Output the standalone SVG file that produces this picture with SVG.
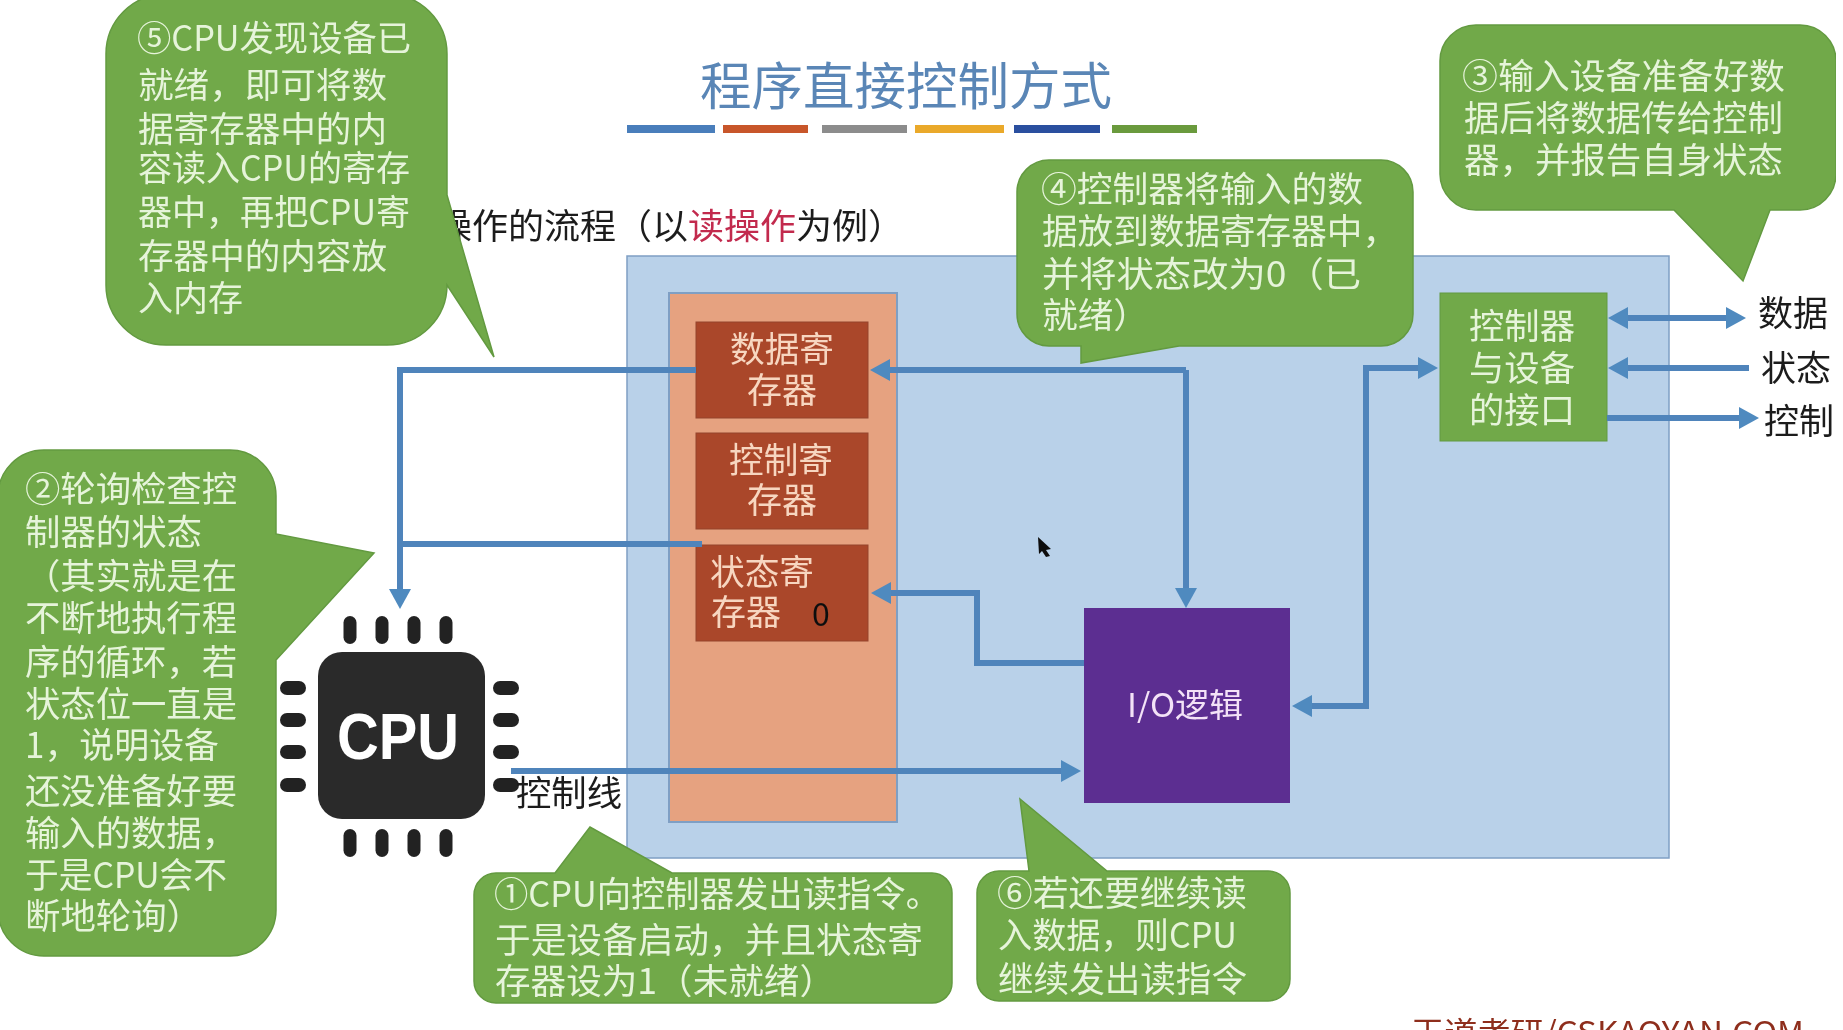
<svg xmlns="http://www.w3.org/2000/svg" width="1843" height="1030" viewBox="0 0 1843 1030">
<defs>
<style>
text{font-family:"Noto Sans CJK SC","Noto Sans",sans-serif;font-size:35px}
.b{fill:#71a949;stroke:#639a40;stroke-width:1.5}
.t{fill:#e6f4da}
.r{fill:#aa472a;stroke:#94452f;stroke-width:1}
.rt{fill:#f7d6c0;text-anchor:middle}
.k{fill:#1c1c1c}
.c{fill:none;stroke:#4f84bb;stroke-width:6;stroke-linejoin:miter}
.a{marker-end:url(#h)}
.p{fill:#222}
</style>
<marker id="h" markerUnits="userSpaceOnUse" viewBox="0 0 20 22" refX="2" refY="11" markerWidth="20" markerHeight="22" orient="auto-start-reverse"><path d="M0,0 L20,11 L0,22 Z" fill="#4f8abf"/></marker>
<filter id="soft" x="0" y="0" width="100%" height="100%"><feGaussianBlur stdDeviation="0.6"/></filter>
</defs>
<rect width="1843" height="1030" fill="#fff"/>
<g filter="url(#soft)">
<g id="title">
<text x="700" y="105" textLength="412" lengthAdjust="spacingAndGlyphs" style="font-size:51px" fill="#5a86b6">程序直接控制方式</text>
<rect x="627" y="125" width="88" height="8" fill="#4a7ebb"/>
<rect x="723" y="125" width="85" height="8" fill="#c8562a"/>
<rect x="822" y="125" width="85" height="8" fill="#8c8c8c"/>
<rect x="915" y="125" width="89" height="8" fill="#eaa92a"/>
<rect x="1014" y="125" width="86" height="8" fill="#2a4f9f"/>
<rect x="1112" y="125" width="85" height="8" fill="#6a9a3c"/>
</g>
<g id="subtitle">
<text x="436" y="239" textLength="468" lengthAdjust="spacingAndGlyphs" class="k">操作的流程（以<tspan fill="#c22a4e">读操作</tspan>为例）</text>
</g>
<g id="panel"><rect x="627" y="256" width="1042" height="602" fill="#b9d1e9" stroke="#7f9fc4" stroke-width="1.5"/></g>
<g id="registers"><rect x="669" y="293" width="228" height="529" fill="#e6a280" stroke="#7f9fc4" stroke-width="2"/></g>
<g id="data-register">
<rect class="r" x="696" y="322" width="172" height="96"/>
<text class="rt" x="782" y="362" textLength="104" lengthAdjust="spacingAndGlyphs">数据寄</text>
<text class="rt" x="782" y="403" textLength="70" lengthAdjust="spacingAndGlyphs">存器</text>
</g>
<g id="control-register">
<rect class="r" x="696" y="433" width="172" height="96"/>
<text class="rt" x="781" y="473" textLength="104" lengthAdjust="spacingAndGlyphs">控制寄</text>
<text class="rt" x="782" y="513" textLength="70" lengthAdjust="spacingAndGlyphs">存器</text>
</g>
<g id="status-register">
<rect class="r" x="696" y="545" width="172" height="96"/>
<text class="rt" x="762" y="585" textLength="104" lengthAdjust="spacingAndGlyphs">状态寄</text>
<text class="rt" x="746" y="625" textLength="70" lengthAdjust="spacingAndGlyphs">存器</text>
<text x="821" y="626" text-anchor="middle" style="font-size:32px" fill="#111">0</text>
</g>
<g id="io-logic">
<rect x="1084" y="608" width="206" height="195" fill="#5c2d91"/>
<text x="1127" y="717" textLength="116" lengthAdjust="spacingAndGlyphs" style="font-size:33px" fill="#f3e2f7">I/O逻辑</text>
</g>
<g id="interface">
<rect x="1440" y="293" width="167" height="148" fill="#71a949" stroke="#639a40"/>
<text class="t" x="1469" y="339" textLength="106" lengthAdjust="spacingAndGlyphs">控制器</text>
<text class="t" x="1469" y="381" textLength="106" lengthAdjust="spacingAndGlyphs">与设备</text>
<text class="t" x="1469" y="423" textLength="106" lengthAdjust="spacingAndGlyphs">的接口</text>
</g>
<g id="cpu">
<rect x="318" y="652" width="167" height="167" rx="24" fill="#2b2b2b"/>
<g class="p">
<rect x="343.500" y="616" width="13" height="28" rx="6.500"/><rect x="375.500" y="616" width="13" height="28" rx="6.500"/><rect x="407.500" y="616" width="13" height="28" rx="6.500"/><rect x="439.500" y="616" width="13" height="28" rx="6.500"/>
<rect x="343.500" y="829" width="13" height="28" rx="6.500"/><rect x="375.500" y="829" width="13" height="28" rx="6.500"/><rect x="407.500" y="829" width="13" height="28" rx="6.500"/><rect x="439.500" y="829" width="13" height="28" rx="6.500"/>
<rect x="280" y="681" width="26" height="14" rx="7"/><rect x="280" y="713" width="26" height="14" rx="7"/><rect x="280" y="745" width="26" height="14" rx="7"/><rect x="280" y="778" width="26" height="14" rx="7"/>
<rect x="493" y="681" width="26" height="14" rx="7"/><rect x="493" y="713" width="26" height="14" rx="7"/><rect x="493" y="745" width="26" height="14" rx="7"/><rect x="493" y="778" width="26" height="14" rx="7"/>
</g>
<text x="337" y="759" textLength="122" lengthAdjust="spacingAndGlyphs" style="font-family:'Liberation Sans',sans-serif;font-size:64px;font-weight:bold" fill="#fff">CPU</text>
</g>
<g id="connectors">
<path class="c a" d="M696,370 H400 V591"/>
<path class="c" d="M702,544 H400"/>
<path class="c a" d="M511,771 H1063"/>
<path class="c a" d="M1186,370 H888"/>
<path class="c a" d="M1186,370 V590"/>
<path class="c a" d="M1084,663 H977 V593 H889"/>
<path class="c a" d="M1420,368 H1366 V706 H1310"/>
<path class="c a" d="M1366,368 H1420"/>
<path class="c a" d="M1626,318 H1728" style="marker-start:url(#h)"/>
<path class="c a" d="M1749,368 H1626"/>
<path class="c a" d="M1607,418 H1741"/>
</g>
<g id="label-control-line"><text class="k" x="516" y="806" textLength="106" lengthAdjust="spacingAndGlyphs">控制线</text></g>
<g id="label-data"><text class="k" x="1758" y="326" textLength="70" lengthAdjust="spacingAndGlyphs">数据</text></g>
<g id="label-status"><text class="k" x="1761" y="381" textLength="70" lengthAdjust="spacingAndGlyphs">状态</text></g>
<g id="label-control"><text class="k" x="1764" y="434" textLength="70" lengthAdjust="spacingAndGlyphs">控制</text></g>
<g id="cursor"><path d="M1038,537 L1051,549 L1046,550 L1050,556 L1046,557 L1042,551 L1039,554 Z" fill="#111"/></g>
<g id="note5">
<path class="b" d="M166,-6 H387 A60,60 0 0 1 447,54 V195 L494,357 L447,285 A60,60 0 0 1 387,345 H166 A60,60 0 0 1 106,285 V54 A60,60 0 0 1 166,-6 Z"/>
<text class="t" x="137" y="51" textLength="274" lengthAdjust="spacingAndGlyphs">⑤CPU发现设备已</text>
<text class="t" x="138" y="98" textLength="249" lengthAdjust="spacingAndGlyphs">就绪，即可将数</text>
<text class="t" x="138" y="142" textLength="249" lengthAdjust="spacingAndGlyphs">据寄存器中的内</text>
<text class="t" x="138" y="181" textLength="272" lengthAdjust="spacingAndGlyphs">容读入CPU的寄存</text>
<text class="t" x="138" y="225" textLength="272" lengthAdjust="spacingAndGlyphs">器中，再把CPU寄</text>
<text class="t" x="138" y="269" textLength="249" lengthAdjust="spacingAndGlyphs">存器中的内容放</text>
<text class="t" x="138" y="311" textLength="105" lengthAdjust="spacingAndGlyphs">入内存</text>
</g>
<g id="note2">
<path class="b" d="M-2,496 A46,46 0 0 1 44,450 H230 A46,46 0 0 1 276,496 V534 L374,553 L276,660 V910 A46,46 0 0 1 230,956 H44 A46,46 0 0 1 -2,910 Z"/>
<text class="t" x="25" y="502" textLength="212" lengthAdjust="spacingAndGlyphs">②轮询检查控</text>
<text class="t" x="25" y="545" textLength="177" lengthAdjust="spacingAndGlyphs">制器的状态</text>
<text class="t" x="25" y="589" textLength="212" lengthAdjust="spacingAndGlyphs">（其实就是在</text>
<text class="t" x="25" y="631" textLength="212" lengthAdjust="spacingAndGlyphs">不断地执行程</text>
<text class="t" x="25" y="675" textLength="212" lengthAdjust="spacingAndGlyphs">序的循环，若</text>
<text class="t" x="25" y="717" textLength="212" lengthAdjust="spacingAndGlyphs">状态位一直是</text>
<text class="t" x="25" y="758" textLength="194" lengthAdjust="spacingAndGlyphs">1，说明设备</text>
<text class="t" x="25" y="804" textLength="212" lengthAdjust="spacingAndGlyphs">还没准备好要</text>
<text class="t" x="25" y="846" textLength="212" lengthAdjust="spacingAndGlyphs">输入的数据，</text>
<text class="t" x="25" y="888" textLength="202" lengthAdjust="spacingAndGlyphs">于是CPU会不</text>
<text class="t" x="25" y="929" textLength="177" lengthAdjust="spacingAndGlyphs">断地轮询）</text>
</g>
<g id="note1">
<path class="b" d="M496,873 H555 L590,827 L672,873 H932 A20,20 0 0 1 952,893 V983 A20,20 0 0 1 932,1003 H496 A22,22 0 0 1 474,981 V895 A22,22 0 0 1 496,873 Z"/>
<text class="t" x="494" y="907" textLength="446" lengthAdjust="spacingAndGlyphs">①CPU向控制器发出读指令。</text>
<text class="t" x="495" y="953" textLength="428" lengthAdjust="spacingAndGlyphs">于是设备启动，并且状态寄</text>
<text class="t" x="495" y="994" textLength="340" lengthAdjust="spacingAndGlyphs">存器设为1（未就绪）</text>
</g>
<g id="note6">
<path class="b" d="M999,871 H1029 L1020,799 L1107,871 H1268 A22,22 0 0 1 1290,893 V979 A22,22 0 0 1 1268,1001 H999 A22,22 0 0 1 977,979 V893 A22,22 0 0 1 999,871 Z"/>
<text class="t" x="997" y="906" textLength="250" lengthAdjust="spacingAndGlyphs">⑥若还要继续读</text>
<text class="t" x="998" y="948" textLength="239" lengthAdjust="spacingAndGlyphs">入数据，则CPU</text>
<text class="t" x="998" y="992" textLength="249" lengthAdjust="spacingAndGlyphs">继续发出读指令</text>
</g>
<g id="note4">
<path class="b" d="M1049,160 H1381 A32,32 0 0 1 1413,192 V314 A32,32 0 0 1 1381,346 H1179 L1081,363 V346 H1049 A32,32 0 0 1 1017,314 V192 A32,32 0 0 1 1049,160 Z"/>
<text class="t" x="1041" y="202" textLength="322" lengthAdjust="spacingAndGlyphs">④控制器将输入的数</text>
<text class="t" x="1042" y="244" textLength="356" lengthAdjust="spacingAndGlyphs">据放到数据寄存器中，</text>
<text class="t" x="1042" y="287" textLength="319" lengthAdjust="spacingAndGlyphs">并将状态改为0（已</text>
<text class="t" x="1042" y="328" textLength="107" lengthAdjust="spacingAndGlyphs">就绪）</text>
</g>
<g id="note3">
<path class="b" d="M1476,25 H1800 A36,36 0 0 1 1836,61 V174 A36,36 0 0 1 1800,210 H1770 L1743,281 L1674,210 H1476 A36,36 0 0 1 1440,174 V61 A36,36 0 0 1 1476,25 Z"/>
<text class="t" x="1462" y="89" textLength="323" lengthAdjust="spacingAndGlyphs">③输入设备准备好数</text>
<text class="t" x="1464" y="131" textLength="319" lengthAdjust="spacingAndGlyphs">据后将数据传给控制</text>
<text class="t" x="1464" y="173" textLength="319" lengthAdjust="spacingAndGlyphs">器，并报告自身状态</text>
</g>
<g id="footer"><text x="1411" y="1043" textLength="393" lengthAdjust="spacingAndGlyphs" style="font-size:30px" fill="#8e2f1e">王道考研/CSKAOYAN.COM</text></g>
</g>
</svg>
